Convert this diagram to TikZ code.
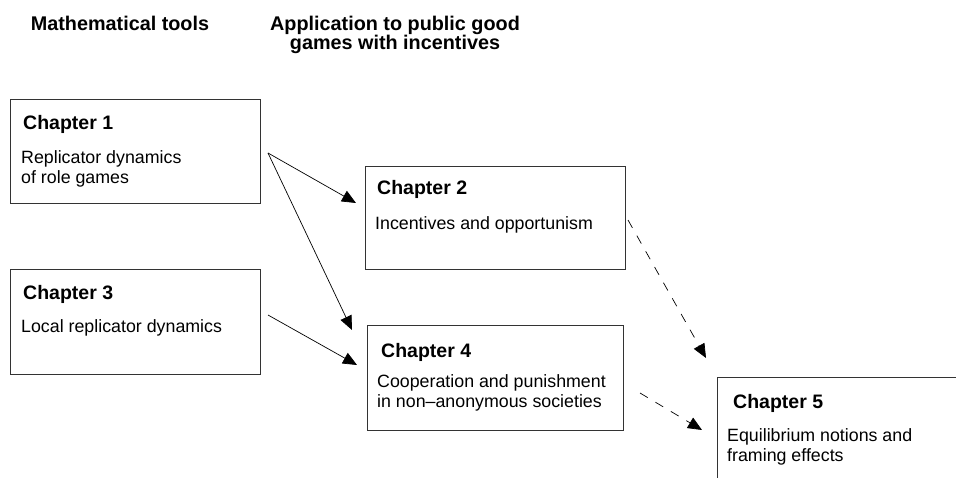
\documentclass[tikz,border=0pt]{standalone}
\usepackage{fontspec}
\setmainfont{Liberation Sans}
\usetikzlibrary{arrows.meta}
\begin{document}
\begin{tikzpicture}[x=1pt, y=-1pt,
    chapter box/.style={rectangle, draw=black!80, line width=1pt, anchor=north west, inner sep=0pt},
    title/.style={anchor=base west, inner sep=0pt, font=\fontsize{19.5}{22}\selectfont\bfseries},
    body/.style={anchor=base west, inner sep=0pt, align=left, font=\fontsize{17.8}{20}\selectfont},
    head/.style={anchor=base, inner sep=0pt, align=center, font=\fontsize{19.8}{19}\selectfont\bfseries},
    link/.style={-{Triangle[length=14pt,width=12pt]}, line width=0.7pt}]
        \useasboundingbox (0,0) rectangle (956,478);
        \clip (0,0) rectangle (956,478);

        % column headings (base = last line)
        \node[head] (tools) at (120,31) {Mathematical tools};
        \node[head] (appl) at (395,50) {Application to public good\\games with incentives};

        % chapters
        \node[chapter box, minimum width=250pt, minimum height=104pt] (1) at (10,99) {};
        \node[title] (1t) at (23,130) {Chapter 1};
        \node[body] (1b) at (21,184) {Replicator dynamics\\of role games};

        \node[chapter box, minimum width=260pt, minimum height=103pt] (2) at (365,166) {};
        \node[title] (2t) at (377,195) {Chapter 2};
        \node[body] (2b) at (375,230) {Incentives and opportunism};

        \node[chapter box, minimum width=250pt, minimum height=105pt] (3) at (10,269) {};
        \node[title] (3t) at (23,300) {Chapter 3};
        \node[body] (3b) at (21,333) {Local replicator dynamics};

        \node[chapter box, minimum width=256pt, minimum height=105pt] (4) at (367,325) {};
        \node[title] (4t) at (381,357) {Chapter 4};
        \node[body] (4b) at (377,407) {Cooperation and punishment\\in non\textendash anonymous societies};

        \node[chapter box, minimum width=260pt, minimum height=130pt] (5) at (717,377) {};
        \node[title] (5t) at (733,408) {Chapter 5};
        \node[body] (5b) at (727,461) {Equilibrium notions and\\framing effects};

        % arrow ends
        \coordinate (1out) at (268,153);
        \coordinate (2in) at (356,203);
        \coordinate (4in) at (352,330);
        \coordinate (3out) at (268,315);
        \coordinate (4in2) at (357,365);
        \coordinate (2out) at (628,220);
        \coordinate (5in) at (706,358);
        \coordinate (4out) at (640,393);
        \coordinate (5in2) at (702,430);

        \path[link]
          (1out) edge (2in)
                 edge (4in)
          (3out) edge (4in2);
        \path[link, dash pattern=on 9pt off 9pt]
          (2out) edge (5in)
          (4out) edge (5in2);
\end{tikzpicture}
\end{document}
